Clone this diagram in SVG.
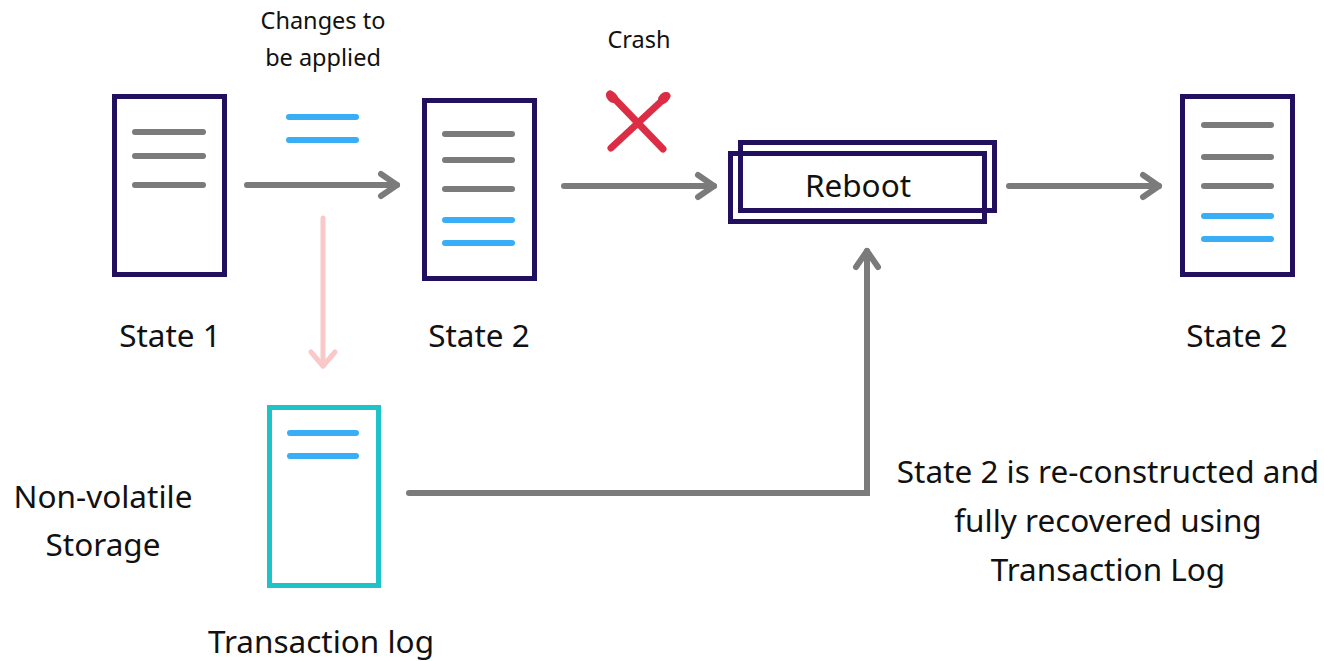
<svg xmlns="http://www.w3.org/2000/svg" width="1324" height="661" viewBox="0 0 1324 661">
  <style>
    .doc { fill: #ffffff; stroke: #22105e; stroke-width: 5; }
    .log { fill: #ffffff; stroke: #1ec2c9; stroke-width: 5; }
    .box { fill: none; stroke: #22105e; stroke-width: 5; }
    .row { stroke: #7b7b7b; stroke-width: 6; stroke-linecap: round; }
    .new { stroke: #3aaef4; stroke-width: 6; stroke-linecap: round; }
    .flow { fill: none; stroke: #7b7b7b; stroke-width: 6; stroke-linecap: round; }
    .write { fill: none; stroke: #f9c8c8; stroke-width: 5; stroke-linecap: round; }
    .lbl { font-family: "Noto Sans", "Open Sans", sans-serif; font-size: 31.5px; fill: #111111; text-anchor: middle; }
    .sm { font-size: 23.5px; }
    .cross { stroke: #dc2d45; stroke-width: 7; stroke-linecap: round; fill: none; }
  </style>
  <defs>
    <marker id="head" markerUnits="userSpaceOnUse" viewBox="-22 -15 28 30" markerWidth="28" markerHeight="30" refX="0" refY="0" orient="auto" overflow="visible">
      <path d="M-16,-11 L0,0 L-16,11" fill="none" stroke="#7b7b7b" stroke-width="6" stroke-linecap="round" stroke-linejoin="round"/>
    </marker>
    <marker id="headPink" markerUnits="userSpaceOnUse" viewBox="-22 -15 28 30" markerWidth="28" markerHeight="30" refX="0" refY="0" orient="auto" overflow="visible">
      <path d="M-14,-12 L0,0 L-14,12" fill="none" stroke="#f9c8c8" stroke-width="5" stroke-linecap="round" stroke-linejoin="round"/>
    </marker>
  </defs>

  <rect width="1324" height="661" fill="#ffffff"/>

  <!-- connectors -->
  <g id="connectors">
    <line class="flow" x1="247" y1="185" x2="397" y2="185" marker-end="url(#head)"/>
    <line class="flow" x1="564" y1="186" x2="714" y2="186" marker-end="url(#head)"/>
    <line class="flow" x1="1009" y1="186" x2="1159" y2="186" marker-end="url(#head)"/>
    <line class="write" x1="323" y1="218" x2="323" y2="366" marker-end="url(#headPink)"/>
    <path class="flow" d="M409,493 H867 V251" stroke-linejoin="miter" marker-end="url(#head)"/>
  </g>

  <!-- pending changes -->
  <g id="changes">
    <line class="new" x1="289" y1="117" x2="356" y2="117"/>
    <line class="new" x1="289" y1="140" x2="356" y2="140"/>
    <text class="lbl sm" x="323" y="29">Changes to</text>
    <text class="lbl sm" x="323" y="66">be applied</text>
  </g>

  <!-- state 1 -->
  <g id="state1">
    <rect class="doc" x="114.5" y="96.5" width="110" height="178"/>
    <line class="row" x1="135" y1="132" x2="203" y2="132"/>
    <line class="row" x1="135" y1="156" x2="203" y2="156"/>
    <line class="row" x1="135" y1="185" x2="203" y2="185"/>
    <text class="lbl" x="170" y="347">State 1</text>
  </g>

  <!-- state 2 -->
  <g id="state2">
    <rect class="doc" x="424.5" y="100.5" width="110" height="178"/>
    <line class="row" x1="445" y1="134" x2="512" y2="134"/>
    <line class="row" x1="445" y1="160" x2="512" y2="160"/>
    <line class="row" x1="445" y1="189" x2="512" y2="189"/>
    <line class="new" x1="445" y1="220" x2="512" y2="220"/>
    <line class="new" x1="445" y1="243" x2="512" y2="243"/>
    <text class="lbl" x="479" y="347">State 2</text>
  </g>

  <!-- crash -->
  <g id="crash">
    <text class="lbl sm" x="639" y="48">Crash</text>
    <path class="cross" d="M610,94 L663,149"/>
    <path class="cross" d="M667,96 L611,148"/>
    <ellipse cx="612" cy="97" rx="7" ry="5" fill="#dc2d45" transform="rotate(45 612 97)"/>
    <ellipse cx="664" cy="98" rx="7" ry="5" fill="#dc2d45" transform="rotate(-45 664 98)"/>
  </g>

  <!-- reboot -->
  <g id="reboot">
    <rect class="box" x="740.5" y="142.5" width="254" height="68"/>
    <rect class="box" x="730.5" y="153.5" width="254" height="68"/>
    <text class="lbl" x="858" y="197">Reboot</text>
  </g>

  <!-- recovered state 2 -->
  <g id="state2-recovered">
    <rect class="doc" x="1182.5" y="96.5" width="110" height="178"/>
    <line class="row" x1="1204" y1="125" x2="1271" y2="125"/>
    <line class="row" x1="1204" y1="157" x2="1271" y2="157"/>
    <line class="row" x1="1204" y1="186" x2="1271" y2="186"/>
    <line class="new" x1="1204" y1="216" x2="1271" y2="216"/>
    <line class="new" x1="1204" y1="239" x2="1271" y2="239"/>
    <text class="lbl" x="1237" y="347">State 2</text>
  </g>

  <!-- transaction log on non-volatile storage -->
  <g id="transaction-log">
    <rect class="log" x="269.5" y="407.5" width="109" height="178"/>
    <line class="new" x1="290" y1="433" x2="356" y2="433"/>
    <line class="new" x1="290" y1="456" x2="356" y2="456"/>
    <text class="lbl" x="321" y="653">Transaction log</text>
  </g>

  <g id="storage-label">
    <text class="lbl" x="103" y="508">Non-volatile</text>
    <text class="lbl" x="103" y="556">Storage</text>
  </g>

  <g id="recovery-note">
    <text class="lbl" x="1108" y="483">State 2 is re-constructed and</text>
    <text class="lbl" x="1108" y="532">fully recovered using</text>
    <text class="lbl" x="1108" y="581">Transaction Log</text>
  </g>
</svg>
